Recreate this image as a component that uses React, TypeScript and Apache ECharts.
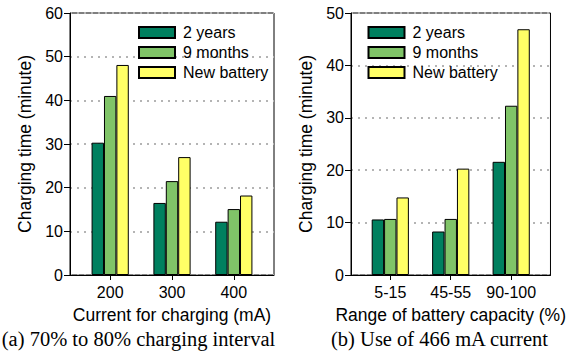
import React, { useEffect, useRef } from "react";
import * as echarts from "echarts";

const seriesNames = ["2 years", "9 months", "New battery"];
const colors = ["#00805F", "#80C468", "#FFFF66"];

const currentCategories = ["200", "300", "400"];
const currentTwoYears = [30.3, 16.5, 12.2];
const currentNineMonths = [41.0, 21.5, 15.1];
const currentNew = [48.1, 27.0, 18.2];

const capacityCategories = ["5-15", "45-55", "90-100"];
const capacityTwoYears = [10.6, 8.3, 21.6];
const capacityNineMonths = [10.7, 10.7, 32.3];
const capacityNew = [14.8, 20.3, 46.9];

const leftYTicks = { min: 0, max: 60, interval: 10 };
const rightYTicks = { min: 0, max: 50, interval: 10 };

const FONT = "'Liberation Sans', Arial, sans-serif";
const SERIF = "'Liberation Serif', 'Times New Roman', serif";

function toPoints(values: number[]) {
  return values.map((v, i) => [i + 1, v]);
}

function makeXAxis(gridIndex: number, cats: string[], name: string) {
  return {
    type: "value",
    gridIndex,
    min: 0.35,
    max: 3.65,
    name,
    nameLocation: "middle",
    nameGap: 31,
    nameTextStyle: { fontFamily: FONT, fontSize: 17.5, color: "#000" },
    axisLine: { show: true, lineStyle: { color: "#000", width: 1 } },
    axisTick: {
      show: true,
      length: 5,
      customValues: [1, 2, 3],
      lineStyle: { color: "#000" },
    },
    axisLabel: {
      customValues: [1, 2, 3],
      formatter: (v: number) => cats[Math.round(v) - 1] ?? "",
      fontFamily: FONT,
      fontSize: 16,
      color: "#000",
      margin: 9,
    },
    splitLine: { show: false },
  };
}

function makeYAxis(gridIndex: number, t: { min: number; max: number; interval: number }) {
  return {
    type: "value",
    gridIndex,
    min: t.min,
    max: t.max,
    interval: t.interval,
    name: "Charging time (minute)",
    nameLocation: "middle",
    nameGap: 36,
    nameTextStyle: { fontFamily: FONT, fontSize: 17.5, color: "#000" },
    axisLine: { show: true, lineStyle: { color: "#000", width: 1 } },
    axisTick: { show: true, length: 6, inside: false, lineStyle: { color: "#000" } },
    axisLabel: { fontFamily: FONT, fontSize: 16, color: "#000", margin: 7 },
    splitLine: {
      show: true,
      lineStyle: { color: "#b4b4b4", width: 2, type: [2, 5] },
    },
  };
}

function makeBars(idx: number, data: number[][]) {
  return data.map((vals, s) => ({
    type: "bar",
    name: seriesNames[s],
    xAxisIndex: idx,
    yAxisIndex: idx,
    data: toPoints(vals),
    barWidth: 12.4,
    barGap: "0%",
    itemStyle: { color: colors[s], borderColor: "#000", borderWidth: 1 },
  }));
}

function makeLegend(left: number) {
  return {
    left,
    top: 24.5,
    orient: "vertical",
    padding: 0,
    itemWidth: 36,
    itemHeight: 11,
    itemGap: 4,
    icon: "rect",
    selectedMode: false,
    data: seriesNames,
    textStyle: {
      fontFamily: FONT,
      fontSize: 16,
      lineHeight: 16,
      color: "#000",
      padding: [0, 0, 0, 3],
    },
  };
}

export default function App() {
  const ref = useRef<HTMLDivElement>(null);
  useEffect(() => {
    if (!ref.current) return;
    const chart = echarts.init(ref.current, undefined, { renderer: "svg" });
    const option = {
      animation: false,
      backgroundColor: "#fff",
      grid: [
        { left: 70, right: 295, top: 13, bottom: 81, show: true, borderColor: "#000", borderWidth: 1, backgroundColor: "transparent" },
        { left: 351, right: 15, top: 13, bottom: 81, show: true, borderColor: "#000", borderWidth: 1, backgroundColor: "transparent" },
      ],
      legend: [makeLegend(138), makeLegend(367.5)],
      xAxis: [
        makeXAxis(0, currentCategories, "Current for charging (mA)"),
        makeXAxis(1, capacityCategories, "Range of battery capacity (%)"),
      ],
      yAxis: [makeYAxis(0, leftYTicks), makeYAxis(1, rightYTicks)],
      series: [
        ...makeBars(0, [currentTwoYears, currentNineMonths, currentNew]),
        ...makeBars(1, [capacityTwoYears, capacityNineMonths, capacityNew]),
      ],
      graphic: [
        {
          type: "text",
          x: 138.5,
          y: 339,
          style: {
            text: "(a) 70% to 80% charging interval",
            font: `20.5px ${SERIF}`,
            fill: "#000",
            align: "center",
            verticalAlign: "middle",
          },
        },
        {
          type: "text",
          x: 439.5,
          y: 339,
          style: {
            text: "(b) Use of 466 mA current",
            font: `20.5px ${SERIF}`,
            fill: "#000",
            align: "center",
            verticalAlign: "middle",
          },
        },
      ],
    };
    chart.setOption(option as any);
    return () => chart.dispose();
  }, []);
  return (
    <div
      ref={ref}
      style={{ position: "fixed", left: 0, top: 0, width: 569, height: 356, background: "#fff" }}
    />
  );
}
